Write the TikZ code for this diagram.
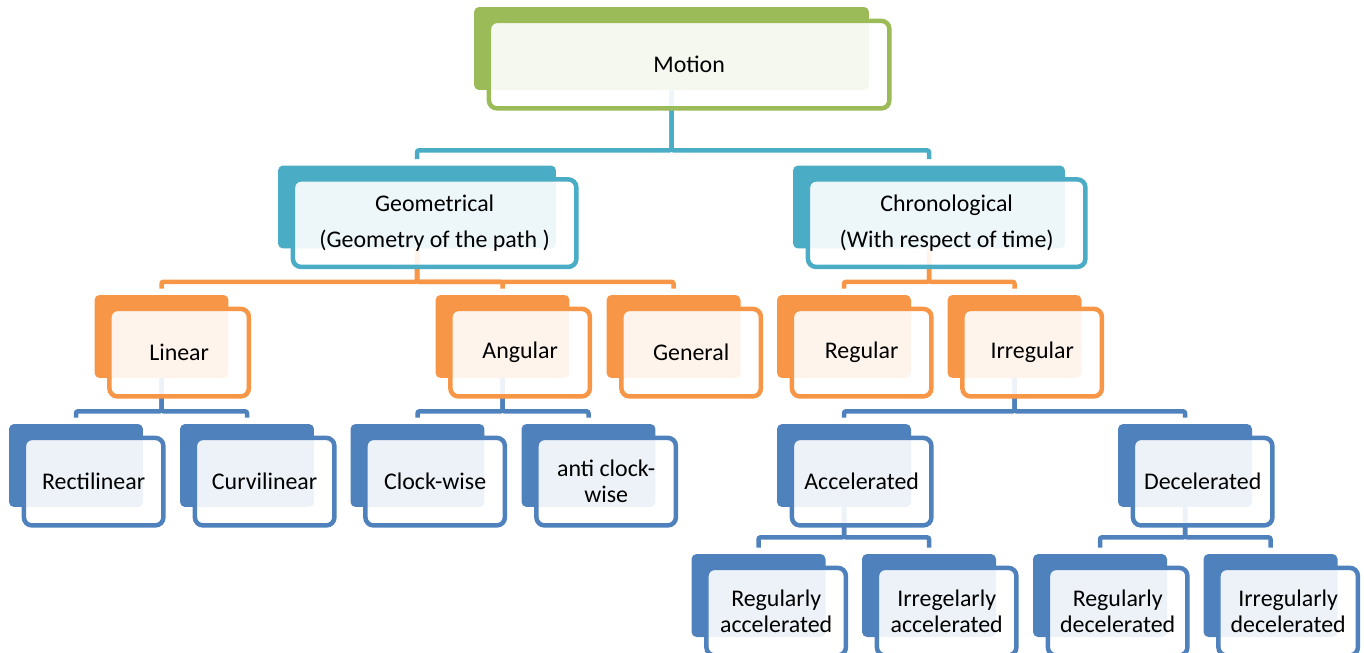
\documentclass[tikz,border=0pt]{standalone}
\usepackage{fontspec}
\setmainfont{Carlito}
\usepackage{tikz}
\usetikzlibrary{positioning}

\definecolor{motiongreen}{HTML}{9BBB59}
\definecolor{motionteal}{HTML}{4BACC6}
\definecolor{motionorange}{HTML}{F79646}
\definecolor{motionblue}{HTML}{4F81BD}

\tikzset{
  back/.style={fill=#1, rounded corners=0.1cm, inner sep=0pt, minimum width=2.68cm, minimum height=1.66cm},
  front/.style={draw=#1, fill=white, fill opacity=0.9, text opacity=1, line width=0.09cm, rounded corners=0.16cm,
    inner sep=0pt, minimum width=2.79cm, minimum height=1.75cm, align=center, font=\fontsize{13.6}{14.7}\selectfont},
  link/.style={draw=#1, line width=0.09cm, rounded corners=0.04cm},
}

\begin{document}
\begin{tikzpicture}[x=0.02cm, y=-0.02cm]

\useasboundingbox (0,0) rectangle (1364,652);
\clip (0,0) rectangle (1364,652);

% back shapes
\node[back=motiongreen, minimum width=7.9cm] (b-motion) at (671.5,48.5) {};

\node[back=motionteal, minimum width=5.56cm] (b-geo) at (417,207) {};
\node[back=motionteal, minimum width=5.44cm] (b-chrono) at (929,207) {};

\node[back=motionorange] (b-linear) at (161.5,336.5) {};
\node[back=motionorange] (b-angular) at (502.5,336.5) {};
\node[back=motionorange] (b-general) at (673.5,336.5) {};
\node[back=motionorange] (b-regular) at (844,336.5) {};
\node[back=motionorange] (b-irregular) at (1014.5,336.5) {};

\node[back=motionblue] (b-rectilinear) at (76,465.5) {};
\node[back=motionblue] (b-curvilinear) at (247,465.5) {};
\node[back=motionblue] (b-clockwise) at (417.5,465.5) {};
\node[back=motionblue] (b-anticlockwise) at (588.5,465.5) {};
\node[back=motionblue] (b-accel) at (844,465.5) {};
\node[back=motionblue] (b-decel) at (1185,465.5) {};

\node[back=motionblue] (b-regaccel) at (758.5,595.5) {};
\node[back=motionblue] (b-irraccel) at (929,595.5) {};
\node[back=motionblue] (b-regdecel) at (1100,595.5) {};
\node[back=motionblue] (b-irrdecel) at (1270.5,595.5) {};

% connectors
\draw[link=motionteal] (b-motion.south) -- ++(0,60) -| ([yshift=0.12cm]b-geo.north);
\draw[link=motionteal] (b-motion.south) -- ++(0,60) -| ([yshift=0.12cm]b-chrono.north);

\draw[link=motionorange] (b-geo.south) -- ++(0,33) -| ([yshift=0.12cm]b-linear.north);
\draw[link=motionorange] (b-geo.south) -- ++(0,33) -| ([yshift=0.12cm]b-angular.north);
\draw[link=motionorange] (b-geo.south) -- ++(0,33) -| ([yshift=0.12cm]b-general.north);
\draw[link=motionorange] (b-chrono.south) -- ++(0,33) -| ([yshift=0.12cm]b-regular.north);
\draw[link=motionorange] (b-chrono.south) -- ++(0,33) -| ([yshift=0.12cm]b-irregular.north);

\draw[link=motionblue] (b-linear.south) -- ++(0,33) -| ([yshift=0.12cm]b-rectilinear.north);
\draw[link=motionblue] (b-linear.south) -- ++(0,33) -| ([yshift=0.12cm]b-curvilinear.north);
\draw[link=motionblue] (b-angular.south) -- ++(0,33) -| ([yshift=0.12cm]b-clockwise.north);
\draw[link=motionblue] (b-angular.south) -- ++(0,33) -| ([yshift=0.12cm]b-anticlockwise.north);
\draw[link=motionblue] (b-irregular.south) -- ++(0,33) -| ([yshift=0.12cm]b-accel.north);
\draw[link=motionblue] (b-irregular.south) -- ++(0,33) -| ([yshift=0.12cm]b-decel.north);

\draw[link=motionblue] (b-accel.south) -- ++(0,30) -| ([yshift=0.12cm]b-regaccel.north);
\draw[link=motionblue] (b-accel.south) -- ++(0,30) -| ([yshift=0.12cm]b-irraccel.north);
\draw[link=motionblue] (b-decel.south) -- ++(0,30) -| ([yshift=0.12cm]b-regdecel.north);
\draw[link=motionblue] (b-decel.south) -- ++(0,30) -| ([yshift=0.12cm]b-irrdecel.north);

% front shapes with the labels
\node[front=motiongreen, minimum width=8.01cm, below right=0.24cm and 0.26cm of b-motion.north west] (motion) {Motion};

\node[front=motionteal, minimum width=5.67cm, below right=0.24cm and 0.26cm of b-geo.north west] (geo) {Geometrical\\[0.19cm](Geometry of the path )};
\node[front=motionteal, minimum width=5.55cm, below right=0.24cm and 0.26cm of b-chrono.north west] (chrono) {Chronological\\[0.19cm](With respect of time)};

\node[front=motionorange, below right=0.24cm and 0.26cm of b-linear.north west] (linear) {Linear};
\node[front=motionorange, below right=0.24cm and 0.26cm of b-angular.north west] (angular) {Angular};
\node[front=motionorange, below right=0.24cm and 0.26cm of b-general.north west] (general) {General};
\node[front=motionorange, below right=0.24cm and 0.26cm of b-regular.north west] (regular) {Regular};
\node[front=motionorange, below right=0.24cm and 0.26cm of b-irregular.north west] (irregular) {Irregular};

\node[front=motionblue, below right=0.24cm and 0.26cm of b-rectilinear.north west] (rectilinear) {Rectilinear};
\node[front=motionblue, below right=0.24cm and 0.26cm of b-curvilinear.north west] (curvilinear) {Curvilinear};
\node[front=motionblue, below right=0.24cm and 0.26cm of b-clockwise.north west] (clockwise) {Clock-wise};
\node[front=motionblue, below right=0.24cm and 0.26cm of b-anticlockwise.north west] (anticlockwise) {anti clock-\\wise};
\node[front=motionblue, below right=0.24cm and 0.26cm of b-accel.north west] (accel) {Accelerated};
\node[front=motionblue, below right=0.24cm and 0.26cm of b-decel.north west] (decel) {Decelerated};

\node[front=motionblue, below right=0.24cm and 0.26cm of b-regaccel.north west] (regaccel) {Regularly\\accelerated};
\node[front=motionblue, below right=0.24cm and 0.26cm of b-irraccel.north west] (irraccel) {Irregelarly\\accelerated};
\node[front=motionblue, below right=0.24cm and 0.26cm of b-regdecel.north west] (regdecel) {Regularly\\decelerated};
\node[front=motionblue, below right=0.24cm and 0.26cm of b-irrdecel.north west] (irrdecel) {Irregularly\\decelerated};

\end{tikzpicture}
\end{document}
